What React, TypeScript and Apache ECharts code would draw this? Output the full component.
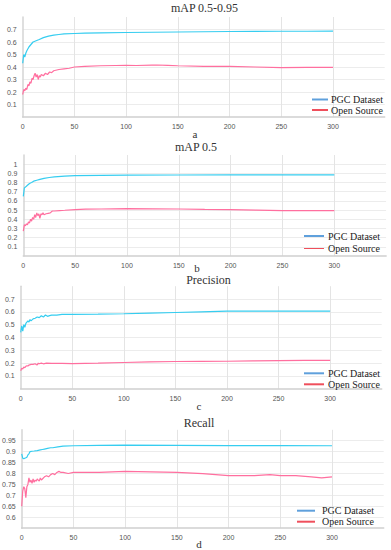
import React, { useEffect, useRef } from "react";
import * as echarts from "echarts";

// ---------- data ----------
const panelTitles = ["mAP 0.5-0.95", "mAP 0.5", "Precision", "Recall"];
const panelLetters = ["a", "b", "c", "d"];
const seriesNames = ["PGC Dataset", "Open Source"];

// mAP 0.5-0.95
const map95PgcX = [0, 1, 2, 3, 4, 6, 8, 10, 13, 16, 20, 25, 30, 35, 40, 50, 60, 75, 100, 125, 150, 175, 200, 225, 250, 275, 300];
const map95PgcY = [0.43, 0.5, 0.48, 0.51, 0.53, 0.56, 0.58, 0.6, 0.61, 0.62, 0.635, 0.647, 0.655, 0.66, 0.665, 0.668, 0.671, 0.673, 0.676, 0.678, 0.68, 0.682, 0.684, 0.685, 0.686, 0.686, 0.687];
const map95OpenX = [0, 1, 2, 3, 4, 5, 6, 7, 8, 9, 10, 11, 12, 13, 14, 15, 16, 17, 18, 20, 22, 24, 26, 28, 30, 35, 40, 45, 50, 60, 75, 90, 100, 110, 125, 130, 140, 150, 175, 200, 225, 250, 275, 300];
const map95OpenY = [0.18, 0.22, 0.21, 0.23, 0.22, 0.26, 0.25, 0.28, 0.27, 0.31, 0.3, 0.33, 0.35, 0.32, 0.34, 0.3, 0.33, 0.32, 0.34, 0.33, 0.35, 0.34, 0.36, 0.355, 0.37, 0.38, 0.385, 0.39, 0.4, 0.405, 0.41, 0.412, 0.413, 0.412, 0.415, 0.416, 0.413, 0.41, 0.405, 0.405, 0.4, 0.395, 0.397, 0.397];

// mAP 0.5
const map50PgcX = [0, 1, 2, 3, 4, 6, 8, 10, 13, 16, 20, 25, 30, 40, 50, 75, 100, 150, 200, 250, 300];
const map50PgcY = [0.65, 0.74, 0.75, 0.76, 0.77, 0.79, 0.8, 0.815, 0.825, 0.835, 0.845, 0.855, 0.862, 0.87, 0.875, 0.878, 0.88, 0.882, 0.883, 0.884, 0.884];
const map50OpenX = [0, 1, 2, 3, 4, 5, 6, 7, 8, 9, 10, 11, 12, 13, 14, 15, 16, 17, 18, 19, 20, 22, 24, 26, 28, 30, 35, 40, 50, 60, 75, 100, 125, 150, 175, 200, 225, 250, 275, 300];
const map50OpenY = [0.27, 0.34, 0.33, 0.35, 0.34, 0.37, 0.36, 0.4, 0.38, 0.42, 0.4, 0.45, 0.42, 0.47, 0.44, 0.46, 0.41, 0.46, 0.45, 0.47, 0.45, 0.46, 0.465, 0.47, 0.49, 0.49, 0.495, 0.498, 0.505, 0.51, 0.512, 0.515, 0.514, 0.512, 0.508, 0.505, 0.5, 0.495, 0.495, 0.495];

// Precision
const precPgcX = [0, 1, 2, 3, 4, 5, 6, 7, 8, 9, 10, 12, 14, 16, 18, 20, 22, 24, 26, 28, 30, 35, 40, 50, 75, 100, 125, 150, 175, 200, 225, 250, 275, 300];
const precPgcY = [0.44, 0.49, 0.45, 0.5, 0.48, 0.51, 0.52, 0.53, 0.52, 0.54, 0.53, 0.545, 0.55, 0.56, 0.555, 0.57, 0.56, 0.575, 0.565, 0.57, 0.575, 0.575, 0.58, 0.58, 0.582, 0.585, 0.59, 0.595, 0.6, 0.605, 0.606, 0.606, 0.605, 0.605];
const precOpenX = [0, 1, 2, 3, 4, 5, 6, 7, 8, 10, 12, 14, 15, 16, 17, 18, 20, 22, 25, 30, 40, 50, 75, 100, 125, 150, 175, 200, 225, 250, 275, 300];
const precOpenY = [0.14, 0.16, 0.155, 0.17, 0.165, 0.175, 0.18, 0.178, 0.185, 0.19, 0.19, 0.195, 0.19, 0.185, 0.2, 0.195, 0.2, 0.195, 0.2, 0.198, 0.198, 0.197, 0.2, 0.205, 0.21, 0.213, 0.214, 0.215, 0.217, 0.22, 0.221, 0.222];

// Recall
const recPgcX = [0, 1, 2, 3, 4, 5, 6, 7, 8, 10, 12, 15, 18, 20, 22, 25, 28, 30, 35, 40, 50, 75, 100, 150, 200, 250, 300];
const recPgcY = [0.89, 0.87, 0.868, 0.87, 0.872, 0.875, 0.885, 0.89, 0.9, 0.902, 0.903, 0.905, 0.908, 0.91, 0.912, 0.915, 0.918, 0.918, 0.922, 0.925, 0.927, 0.929, 0.93, 0.929, 0.928, 0.928, 0.927];
const recOpenX = [0, 1, 2, 3, 4, 5, 6, 7, 8, 9, 10, 11, 12, 13, 14, 15, 16, 17, 18, 19, 20, 22, 24, 26, 28, 30, 32, 34, 36, 38, 40, 45, 50, 60, 75, 100, 125, 150, 175, 200, 225, 240, 250, 265, 280, 290, 300];
const recOpenY = [0.65, 0.72, 0.74, 0.73, 0.69, 0.74, 0.75, 0.78, 0.76, 0.77, 0.755, 0.775, 0.76, 0.77, 0.765, 0.775, 0.77, 0.765, 0.78, 0.77, 0.775, 0.785, 0.79, 0.785, 0.795, 0.8, 0.795, 0.805, 0.81, 0.805, 0.805, 0.8, 0.805, 0.805, 0.805, 0.81, 0.808, 0.805, 0.8, 0.79, 0.79, 0.795, 0.79, 0.79, 0.785, 0.78, 0.785];

// axis ranges
const yMins = [0, 0, 0, 0.55];
const yMaxs = [0.8, 1.1, 0.8, 1.0];
const yIntervals = [0.1, 0.1, 0.1, 0.05];
const xMax = 350;
const xInterval = 50;

// ---------- layout / style ----------
const grids = [
  { left: 22.7, top: 17, width: 362, height: 100 },
  { left: 23.3, top: 155, width: 362.8, height: 101 },
  { left: 20.7, top: 286.2, width: 361, height: 102.6 },
  { left: 21.7, top: 429.8, width: 362, height: 98.4 },
];
const titlePos = [
  [204.5, 8],
  [196, 146.5],
  [208.5, 280],
  [199, 423],
];
const letterPos = [
  [195, 133.5],
  [197, 267.5],
  [199, 406],
  [199, 544],
];
// legend: icon x1, icon x2, text x, row y's
const legendPos = [
  { x1: 312, x2: 328, tx: 331, ys: [99.5, 110] },
  { x1: 304, x2: 324, tx: 328, ys: [236, 248] },
  { x1: 304, x2: 324, tx: 328, ys: [373.3, 384.3] },
  { x1: 297, x2: 315, tx: 322, ys: [510.7, 521.7] },
];

const PGC_COLOR = "#36cdf0";
const OPEN_COLOR = "#ff6f9f";
const LEG_COLORS = ["#5fa0dc", "#ef4f5c"];
const SERIF = "Liberation Serif";
const SANS = "Liberation Sans";

const pair = (xs: number[], ys: number[]) => {
  const n = Math.min(xs.length, ys.length);
  const out: number[][] = [];
  for (let i = 0; i < n; i++) out.push([xs[i], ys[i]]);
  return out;
};

const panelData = [
  [pair(map95PgcX, map95PgcY), pair(map95OpenX, map95OpenY)],
  [pair(map50PgcX, map50PgcY), pair(map50OpenX, map50OpenY)],
  [pair(precPgcX, precPgcY), pair(precOpenX, precOpenY)],
  [pair(recPgcX, recPgcY), pair(recOpenX, recOpenY)],
];

export default function App() {
  const ref = useRef<HTMLDivElement>(null);

  useEffect(() => {
    if (!ref.current) return;
    const chart = echarts.init(ref.current, null, { renderer: "svg" });

    const title: any[] = [];
    panelTitles.forEach((t, i) => {
      title.push({
        text: t,
        left: titlePos[i][0],
        top: titlePos[i][1],
        textAlign: "center",
        textVerticalAlign: "middle",
        padding: 0,
        textStyle: { fontFamily: SERIF, fontSize: 12, fontWeight: "normal", color: "#333" },
      });
      title.push({
        text: panelLetters[i],
        left: letterPos[i][0],
        top: letterPos[i][1],
        textAlign: "center",
        textVerticalAlign: "middle",
        padding: 0,
        textStyle: { fontFamily: SERIF, fontSize: 11, fontWeight: "normal", color: "#333" },
      });
    });
    // legend labels (serif) as title components
    legendPos.forEach((l) => {
      seriesNames.forEach((name, k) => {
        title.push({
          text: name,
          left: l.tx,
          top: l.ys[k],
          textAlign: "left",
          textVerticalAlign: "middle",
          padding: 0,
          textStyle: { fontFamily: SERIF, fontSize: 10, fontWeight: "normal", color: "#222" },
        });
      });
    });

    const grid = grids.map((g) => ({ ...g, containLabel: false, outerBoundsMode: "none" }));

    const xAxis = grids.map((_, i) => ({
      type: "value",
      gridIndex: i,
      min: 0,
      max: xMax,
      interval: xInterval,
      axisLine: { show: true, onZero: false, lineStyle: { color: "#cfcfcf", width: 1.5 } },
      axisTick: { show: false },
      axisLabel: { fontSize: 7, color: "#555", fontFamily: SANS, margin: 6, showMaxLabel: false },
      splitLine: {
        show: true,
        showMinLine: false,
        showMaxLine: false,
        lineStyle: { color: "#e4e4e4", width: 1 },
      },
    }));

    const yAxis = grids.map((_, i) => ({
      type: "value",
      gridIndex: i,
      min: yMins[i],
      max: yMaxs[i],
      interval: yIntervals[i],
      axisLine: { show: true, lineStyle: { color: "#d4d4d4", width: 1.5 } },
      axisTick: { show: false },
      axisLabel: {
        fontSize: 7,
        color: "#555",
        fontFamily: SANS,
        margin: 6,
        showMinLabel: false,
        showMaxLabel: false,
      },
      splitLine: {
        show: true,
        showMinLine: false,
        showMaxLine: false,
        lineStyle: { color: "#ececec", width: 1 },
      },
    }));

    const series: any[] = [];
    panelData.forEach((pd, i) => {
      series.push({
        name: seriesNames[0],
        type: "line",
        xAxisIndex: i,
        yAxisIndex: i,
        data: pd[0],
        showSymbol: false,
        lineStyle: { color: PGC_COLOR, width: 1.2 },
        itemStyle: { color: PGC_COLOR },
      });
      series.push({
        name: seriesNames[1],
        type: "line",
        xAxisIndex: i,
        yAxisIndex: i,
        data: pd[1],
        showSymbol: false,
        lineStyle: { color: OPEN_COLOR, width: 1.2 },
        itemStyle: { color: OPEN_COLOR },
      });
    });

    // legend key lines
    const graphic: any[] = [];
    legendPos.forEach((l) => {
      seriesNames.forEach((_, k) => {
        graphic.push({
          type: "line",
          silent: true,
          shape: { x1: l.x1, y1: l.ys[k], x2: l.x2, y2: l.ys[k] },
          style: { stroke: LEG_COLORS[k], lineWidth: 2 },
        });
      });
    });

    chart.setOption({
      animation: false,
      backgroundColor: "#ffffff",
      title,
      grid,
      xAxis,
      yAxis,
      series,
      graphic,
    });

    return () => chart.dispose();
  }, []);

  return (
    <div
      ref={ref}
      style={{ position: "fixed", left: 0, top: 0, width: 391, height: 550, background: "#fff" }}
    />
  );
}
